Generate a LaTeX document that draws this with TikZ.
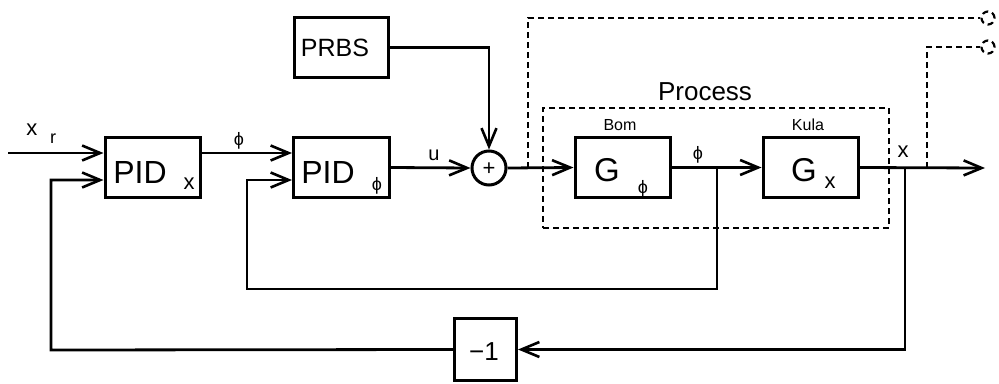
\documentclass[tikz,border=0pt]{standalone}
\usepackage{fontspec}
\setmainfont{Liberation Sans}
\usetikzlibrary{arrows.meta}
\begin{document}
\begin{tikzpicture}[x=1pt,y=-1pt,
  line width=2.8pt,
  blk/.style={draw, rectangle, inner sep=0pt, line width=3pt},
  arr/.style={-{Straight Barb[length=18pt,width=15pt,line width=2.6pt]}},
  dsh/.style={dashed, dash pattern=on 6pt off 4pt, line width=2.2pt},
  lbl/.style={inner sep=0pt}
]
\useasboundingbox (0,0) rectangle (999,383);
% blocks
\node[blk, minimum width=95pt, minimum height=60pt] (pidx) at (152.5,167.5) {};
\node[blk, minimum width=96pt, minimum height=60pt] (pidp) at (341.5,167.5) {};
\node[blk, minimum width=94pt, minimum height=60pt] (prbs) at (341,47.5) {};
\node[draw, circle, minimum size=34pt, inner sep=0pt, line width=3pt] (sum) at (489,168) {};
\node[blk, minimum width=95pt, minimum height=60pt] (gp) at (622.5,167.5) {};
\node[blk, minimum width=95pt, minimum height=60pt] (gx) at (810.5,167.5) {};
\node[blk, minimum width=62pt, minimum height=62pt] (m1) at (485.5,349.5) {};
\node[draw, dsh, rectangle, minimum width=346pt, minimum height=120pt] (proc) at (716,168) {};
\node[draw, dsh, circle, minimum size=13pt, inner sep=0pt] (t1) at (988,18) {};
\node[draw, dsh, circle, minimum size=13pt, inner sep=0pt] (t2) at (988,47) {};
% texts
\node[lbl, font=\fontsize{32}{32}\selectfont] (tpidx) at (140,172) {PID};
\node[lbl, font=\fontsize{22}{22}\selectfont] (spidx) at (189,184) {x};
\node[lbl, font=\fontsize{32}{32}\selectfont] (tpidp) at (328,172) {PID};
\node[lbl, font=\fontsize{18}{18}\selectfont] (spidp) at (377,186) {ϕ};
\node[lbl, font=\fontsize{25}{25}\selectfont] (tprbs) at (335,48) {PRBS};
\node[lbl, font=\fontsize{22}{22}\selectfont] (tsum) at (489,169) {+};
\node[lbl, font=\fontsize{33}{33}\selectfont] (tgp) at (607,170) {G};
\node[lbl, font=\fontsize{18}{18}\selectfont] (sgp) at (643,189) {ϕ};
\node[lbl, font=\fontsize{33}{33}\selectfont] (tgx) at (804,170) {G};
\node[lbl, font=\fontsize{22}{22}\selectfont] (sgx) at (830,183) {x};
\node[lbl, font=\fontsize{26}{26}\selectfont] (tm1) at (484,352) {−1};
\node[lbl, font=\fontsize{16}{16}\selectfont] (bom) at (620,125) {Bom};
\node[lbl, font=\fontsize{16}{16}\selectfont] (kula) at (808,125) {Kula};
\node[lbl, font=\fontsize{26}{26}\selectfont] (tproc) at (705,92) {Process};
\node[lbl, font=\fontsize{22}{22}\selectfont] (lx) at (32,130) {x};
\node[lbl, font=\fontsize{18}{18}\selectfont] (lr) at (53,139) {r};
\node[lbl, font=\fontsize{18}{18}\selectfont] (lphi1) at (239,141) {ϕ};
\node[lbl, font=\fontsize{20}{20}\selectfont] (lu) at (434,155) {u};
\node[lbl, font=\fontsize{18}{18}\selectfont] (lphi2) at (698,155) {ϕ};
\node[lbl, font=\fontsize{22}{22}\selectfont] (lxo) at (903,152) {x};
% coordinates
\coordinate (in) at (8,153);
\coordinate (fb) at (0,180);
\coordinate (b1) at (717,168);
\coordinate (b2) at (905,168);
\coordinate (c1) at (247,289);
\coordinate (c2) at (51,350);
\coordinate (out) at (985,168);
\coordinate (d1) at (528,168);
\coordinate (d2) at (927,168);
% connectors
\draw[arr] (in) -- (pidx.west |- in);
\draw[arr] (pidx.east |- in) -- (pidp.west |- in);
\draw[arr] (pidp.east) -- (sum.west);
\draw[arr] (prbs.east) -| (sum.north);
\draw[arr] (sum.east) -- (gp.west);
\draw[arr] (gp.east) -- (gx.west);
\draw[arr] (gx.east) -- (out);
\draw[arr] (b1) |- (c1) |- (pidp.west |- fb);
\draw[arr] (b2) |- (m1.east);
\draw[arr] (m1.west) -- (c2) |- (pidx.west |- fb);
\draw[dsh] (d1) |- (t1.west);
\draw[dsh] (d2) |- (t2.west);
\end{tikzpicture}
\end{document}
